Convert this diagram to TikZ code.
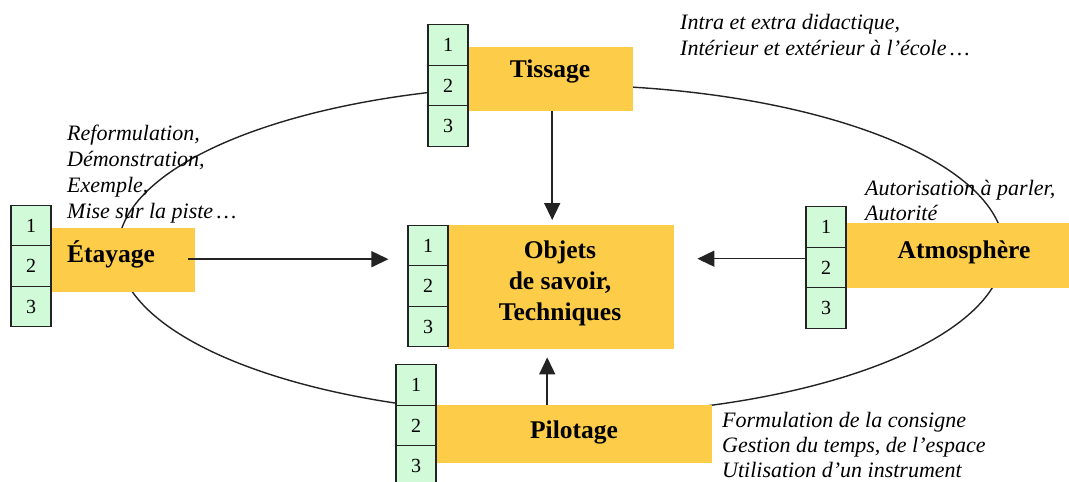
\documentclass[tikz,border=0pt]{standalone}
\usepackage{fontspec}
\setmainfont{Liberation Serif}
\usetikzlibrary{arrows.meta,calc}
\definecolor{boxorange}{RGB}{253,204,72}
\definecolor{cellgreen}{RGB}{208,250,216}
\definecolor{lineg}{RGB}{35,35,35}
\begin{document}
\begin{tikzpicture}[x=1pt,y=-1pt,
  orangebox/.style={fill=boxorange, draw=none, inner sep=0pt, anchor=north west},
  cell/.style={draw=lineg, fill=cellgreen, line width=1.2pt, minimum width=40pt,
    minimum height=40.5pt, inner sep=0pt, font=\fontsize{20}{22}\selectfont},
  itext/.style={inner sep=0pt, align=left, anchor=north west},
  btext/.style={inner sep=0pt, font=\fontsize{25.5}{31}\selectfont\bfseries},
  arr/.style={draw=lineg, line width=1.5pt, -{Triangle[length=17pt,width=16pt]}},
  ring/.style={draw=lineg, line width=1.4pt}]
\clip (0,0) rectangle (1069,482);
\fill[white] (0,0) rectangle (1069,482);

% ellipse
\draw[ring] (561,250) ellipse [x radius=443pt, y radius=165pt];

% orange boxes
\node[orangebox, minimum width=166pt, minimum height=64pt] (tis) at (467,47) {};
\node[orangebox, minimum width=144pt, minimum height=64pt] (eta) at (51,228) {};
\node[orangebox, minimum width=226pt, minimum height=124pt] (obj) at (448,225) {};
\node[orangebox, minimum width=223pt, minimum height=65pt] (atm) at (846,223) {};
\node[orangebox, minimum width=276pt, minimum height=58pt] (pil) at (436,405) {};

% number cells
\node[cell] (tis1) at (448,45) {1};
\node[cell] (tis2) at (448,85.5) {2};
\node[cell] (tis3) at (448,126) {3};

\node[cell] (eta1) at (31,225.5) {1};
\node[cell] (eta2) at (31,266) {2};
\node[cell] (eta3) at (31,306.5) {3};

\node[cell] (ob1) at (428,245.5) {1};
\node[cell] (ob2) at (428,286) {2};
\node[cell] (ob3) at (428,326.5) {3};

\node[cell] (at1) at (826,227) {1};
\node[cell] (at2) at (826,267.5) {2};
\node[cell] (at3) at (826,308) {3};

\node[cell] (pi1) at (416,385) {1};
\node[cell] (pi2) at (416,425.5) {2};
\node[cell] (pi3) at (416,466) {3};

% arrows
\draw[arr, shorten >=5pt] ([xshift=2pt]tis.south) -- ([xshift=2pt]tis.south |- obj.north);
\draw[arr, shorten >=19pt] ([xshift=-7pt,yshift=1pt]eta.east) -- ([yshift=1pt]eta.east -| ob1.west);
\draw[arr, shorten >=23pt] ([yshift=-3pt]at2.west |- atm.west) -- ([yshift=-3pt]obj.east |- atm.west);
\draw[arr, shorten >=8pt] ([xshift=-27pt]pil.north) -- ([xshift=-27pt]pil.north |- obj.south);

% bold labels
\node[btext, anchor=base] (tisT) at (550,77) {Tissage};
\node[btext, anchor=base west] (etaT) at (67,262) {Étayage};
\node[btext, align=center, anchor=north] (objT) at (560,240.5) {Objets\\de savoir,\\Techniques};
\node[btext, anchor=base] (atmT) at (964,258) {Atmosphère};
\node[btext, anchor=base] (pilT) at (574,438) {Pilotage};

% italic notes
\node[itext, font=\fontsize{22}{26}\selectfont\itshape] (noteEta) at (67,125)
  {Reformulation,\\Démonstration,\\Exemple,\\Mise sur la piste\,…};
\node[itext, font=\fontsize{22}{26}\selectfont\itshape] (noteTis) at (680,14)
  {Intra et extra didactique,\\Intérieur et extérieur à l’école\,…};
\node[itext, font=\fontsize{22}{25}\selectfont\itshape] (noteAtm) at (865,180)
  {Autorisation à parler,\\Autorité};
\node[itext, font=\fontsize{22}{25}\selectfont\itshape] (notePil) at (722,412)
  {Formulation de la consigne\\Gestion du temps, de l’espace\\Utilisation d’un instrument};
\end{tikzpicture}
\end{document}
